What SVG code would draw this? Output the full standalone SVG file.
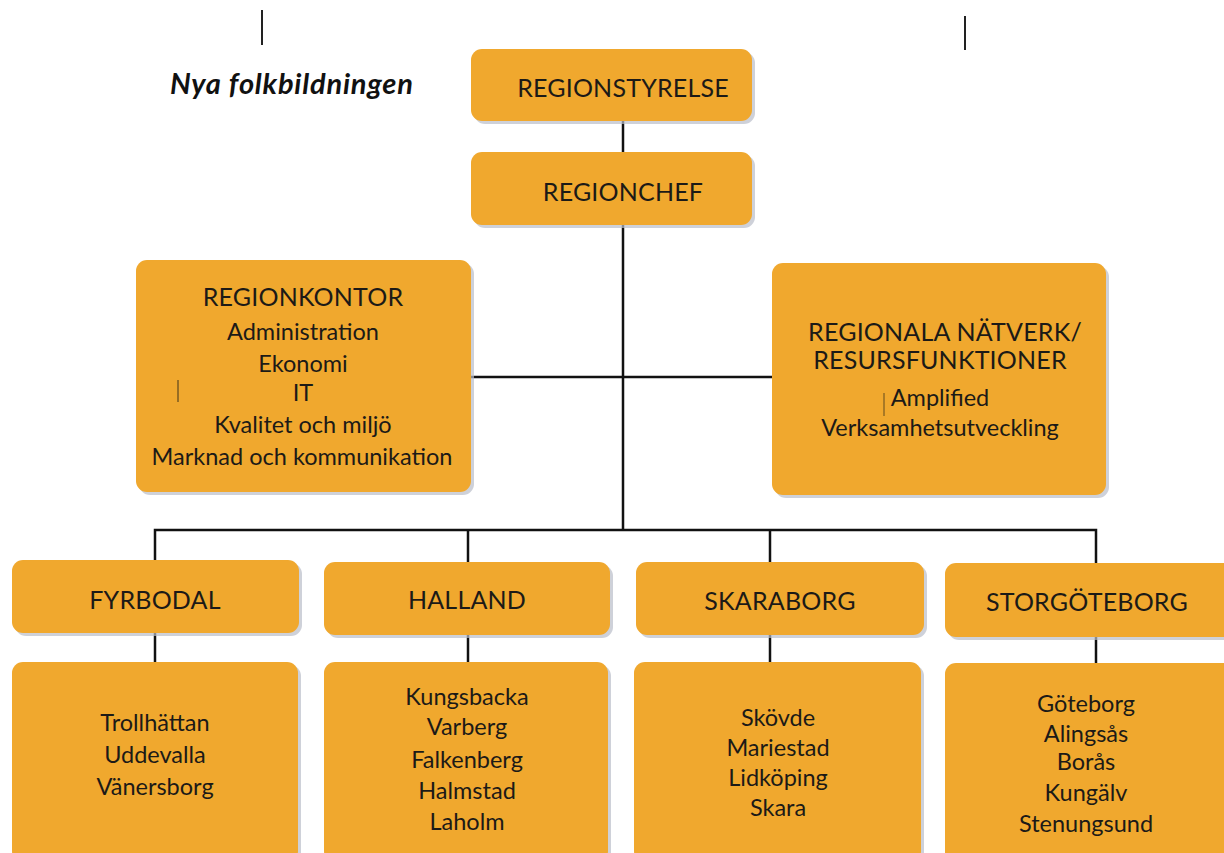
<svg xmlns="http://www.w3.org/2000/svg" width="1224" height="853" viewBox="0 0 1224 853">
<style>
.box{fill:#F0A82E}
.sh{fill:#B9BDC9;opacity:0.7}
.t{font-family:Lato,"Noto Sans","Liberation Sans",sans-serif;font-size:23.5px;fill:#1c1a17;text-anchor:middle}
.c{font-size:25px;letter-spacing:0.2px}
.ln{stroke:#111;stroke-width:2.5;fill:none}
.mark{stroke:#222;stroke-width:2;fill:none}
</style>
<rect width="1224" height="853" fill="#ffffff"/>
<line class="mark" x1="262" y1="10" x2="262" y2="45"/>
<line class="mark" x1="965" y1="16" x2="965" y2="50"/>
<text x="170" y="94" style="font-family:Lato,'Noto Sans',sans-serif;font-size:29px;letter-spacing:0.8px;font-weight:bold;font-style:italic;fill:#111">Nya folkbildningen</text>
<g id="connectors">
<line class="ln" x1="623" y1="121" x2="623" y2="153"/>
<line class="ln" x1="623" y1="225" x2="623" y2="530"/>
<line class="ln" x1="470" y1="377" x2="773" y2="377"/>
<polyline class="ln" points="155,561 155,530 1096,530 1096,563"/>
<line class="ln" x1="468" y1="530" x2="468" y2="562"/>
<line class="ln" x1="770" y1="530" x2="770" y2="562"/>
<line class="ln" x1="155" y1="633" x2="155" y2="663"/>
<line class="ln" x1="468" y1="635" x2="468" y2="663"/>
<line class="ln" x1="770" y1="635" x2="770" y2="663"/>
<line class="ln" x1="1096" y1="637" x2="1096" y2="663"/>
</g>
<g id="regionstyrelse">
<rect class="sh" x="474" y="52" width="281" height="72" rx="11"/>
<rect class="box" x="471" y="49" width="281" height="72" rx="11"/>
<text class="t c" x="623" y="97">REGIONSTYRELSE</text>
</g>
<g id="regionchef">
<rect class="sh" x="474" y="155" width="281" height="73" rx="11"/>
<rect class="box" x="471" y="152" width="281" height="73" rx="11"/>
<text class="t c" x="623" y="201">REGIONCHEF</text>
</g>
<g id="regionkontor">
<rect class="sh" x="139" y="263" width="335" height="232" rx="11"/>
<rect class="box" x="136" y="260" width="335" height="232" rx="11"/>
<text class="t c" x="303" y="306">REGIONKONTOR</text>
<text class="t" x="303" y="340">Administration</text>
<text class="t" x="303" y="372">Ekonomi</text>
<text class="t" x="303" y="401">IT</text>
<text class="t" x="303" y="433">Kvalitet och miljö</text>
<text class="t" x="302" y="465">Marknad och kommunikation</text>
<line x1="178" y1="380" x2="178" y2="402" stroke="#7a5a20" stroke-width="1.5"/>
</g>
<g id="regionala">
<rect class="sh" x="775" y="266" width="334" height="232" rx="11"/>
<rect class="box" x="772" y="263" width="334" height="232" rx="11"/>
<text class="t c" x="945" y="341">REGIONALA NÄTVERK/</text>
<text class="t c" x="940" y="369">RESURSFUNKTIONER</text>
<text class="t" x="940" y="406">Amplified</text>
<text class="t" x="940" y="436">Verksamhetsutveckling</text>
<line x1="884" y1="393" x2="884" y2="416" stroke="#7a5a20" stroke-width="1.2"/>
</g>
<g id="fyrbodal">
<rect class="sh" x="15" y="563" width="287" height="73" rx="11"/>
<rect class="box" x="12" y="560" width="287" height="73" rx="11"/>
<text class="t c" x="155" y="609">FYRBODAL</text>
</g>
<g id="halland">
<rect class="sh" x="327" y="565" width="286" height="73" rx="11"/>
<rect class="box" x="324" y="562" width="286" height="73" rx="11"/>
<text class="t c" x="467" y="609">HALLAND</text>
</g>
<g id="skaraborg">
<rect class="sh" x="639" y="565" width="288" height="73" rx="11"/>
<rect class="box" x="636" y="562" width="288" height="73" rx="11"/>
<text class="t c" x="780" y="610">SKARABORG</text>
</g>
<g id="storgoteborg">
<rect class="sh" x="948" y="566" width="290" height="74" rx="11"/>
<rect class="box" x="945" y="563" width="290" height="74" rx="11"/>
<text class="t c" x="1087" y="611">STORGÖTEBORG</text>
</g>
<g id="fyrbodal-orter">
<rect class="sh" x="15" y="665" width="286" height="200" rx="11"/>
<rect class="box" x="12" y="662" width="286" height="200" rx="11"/>
<text class="t" x="155" y="731">Trollhättan</text>
<text class="t" x="155" y="763">Uddevalla</text>
<text class="t" x="155" y="795">Vänersborg</text>
</g>
<g id="halland-orter">
<rect class="sh" x="327" y="665" width="284" height="200" rx="11"/>
<rect class="box" x="324" y="662" width="284" height="200" rx="11"/>
<text class="t" x="467" y="705">Kungsbacka</text>
<text class="t" x="467" y="735">Varberg</text>
<text class="t" x="467" y="768">Falkenberg</text>
<text class="t" x="467" y="799">Halmstad</text>
<text class="t" x="467" y="830">Laholm</text>
</g>
<g id="skaraborg-orter">
<rect class="sh" x="637" y="665" width="287" height="200" rx="11"/>
<rect class="box" x="634" y="662" width="287" height="200" rx="11"/>
<text class="t" x="778" y="726">Skövde</text>
<text class="t" x="778" y="756">Mariestad</text>
<text class="t" x="778" y="786">Lidköping</text>
<text class="t" x="778" y="816">Skara</text>
</g>
<g id="storgoteborg-orter">
<rect class="sh" x="948" y="666" width="290" height="200" rx="11"/>
<rect class="box" x="945" y="663" width="290" height="200" rx="11"/>
<text class="t" x="1086" y="712">Göteborg</text>
<text class="t" x="1086" y="742">Alingsås</text>
<text class="t" x="1086" y="770">Borås</text>
<text class="t" x="1086" y="801">Kungälv</text>
<text class="t" x="1086" y="832">Stenungsund</text>
</g>
</svg>
